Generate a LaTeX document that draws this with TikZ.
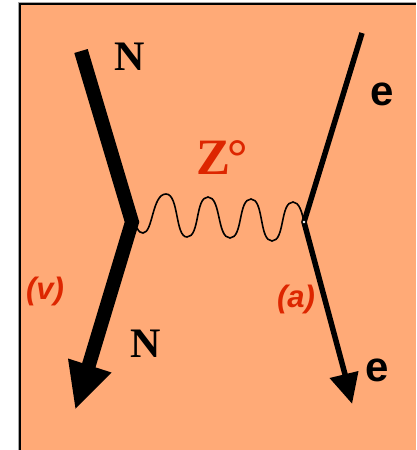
\documentclass[tikz,border=0pt]{standalone}
\usepackage{fontspec}
\setmainfont{Liberation Serif}
\setsansfont{Liberation Sans}
\definecolor{bgpeach}{HTML}{FFAA77}
\definecolor{labred}{HTML}{DD2600}
\tikzset{
  serifN/.style={font=\rmfamily\bfseries\fontsize{42}{42}\selectfont,inner sep=0pt,text=black},
  sanse/.style={font=\sffamily\bfseries\fontsize{42}{42}\selectfont,inner sep=0pt,text=black},
  redlab/.style={font=\sffamily\bfseries\itshape\fontsize{31}{31}\selectfont,inner sep=0pt,text=labred},
  thickline/.style={line width=14pt,line join=miter,miter limit=10},
  thinline/.style={line width=5.5pt,line join=miter,miter limit=10},
  wave/.style={line width=1.6pt,line cap=round},
  tiphead/.style={fill=black,draw=none}
}
\begin{document}
\begin{tikzpicture}[x=1pt,y=-1pt]
\useasboundingbox (0,0) rectangle (416,450);
\fill[gray!70] (18,1.5) rectangle (416,450);
\fill[black] (19,3) rectangle (416,450);
\fill[bgpeach] (20.5,4.5) rectangle (416,450);
% vertices
\coordinate (ntop) at (81,51);
\coordinate (nv) at (132,222);
\coordinate (nend) at (88,368);
\coordinate (etop) at (362,33);
\coordinate (ev) at (304,222);
\coordinate (eend) at (346,378);
% fermion lines
\draw[thickline] (ntop) -- (nv) -- (nend);
\draw[thinline] (etop) -- (ev) -- (eend);
% arrowheads
\fill[tiphead] (68,358.5) -- (111.5,372.5) -- (75.5,408.5) -- cycle;
\fill[tiphead] (329.5,378) -- (358.5,371) -- (352,403.5) -- cycle;
% Z wave
\draw[wave] (137,228)
  .. controls (139,232) and (141,233) .. (143,233)
  .. controls (153,233) and (152,194) .. (166,194)
  .. controls (179,194) and (175,237) .. (187,237)
  .. controls (200,237) and (195,197) .. (208,197)
  .. controls (221,197) and (217,238) .. (230,238)
  .. controls (243,238) and (238,199) .. (251,199)
  .. controls (264,199) and (259,241) .. (272,241)
  .. controls (285,241) and (280,202) .. (293,202)
  .. controls (299,202) and (302,212) .. (ev);
\fill[white] (ev) circle (1.3);
% labels
\node[serifN] (n1) at (130,57) {N};
\node[serifN] (n2) at (146,344) {N};
\node[sanse] (e1) at (382,94) {e};
\node[sanse] (e2) at (377,370) {e};
\node[font=\rmfamily\bfseries\fontsize{51}{51}\selectfont,text=labred,inner sep=0pt] (z) at (222,158) {Z\kern-3pt°};
\node[redlab] (v) at (45,291) {(v)};
\node[redlab] (a) at (296,299) {(a)};
\end{tikzpicture}
\end{document}
